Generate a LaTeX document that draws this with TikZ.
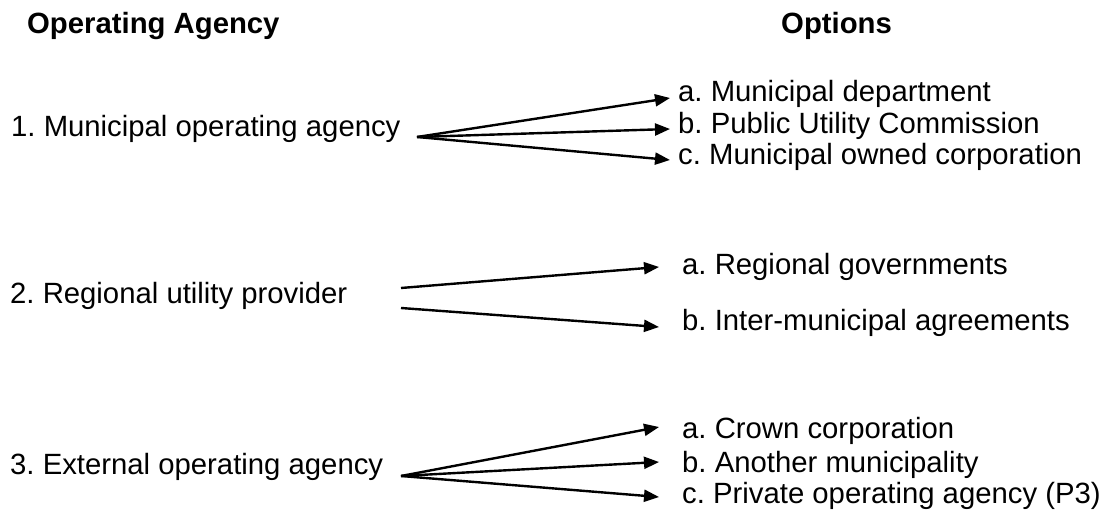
\documentclass[tikz,border=0pt]{standalone}
\usepackage{fontspec}
\setmainfont{Liberation Sans}
\frenchspacing
\usetikzlibrary{arrows.meta}
\tikzset{
  txt/.style={anchor=base west, inner sep=0pt, font=\fontsize{29.3}{34}\selectfont},
  head/.style={txt, font=\fontsize{29.3}{34}\selectfont\bfseries},
  conn/.style={line width=2.4pt, -{Triangle[length=15pt,width=12pt]}},
}
\begin{document}
\begin{tikzpicture}[x=1pt,y=-1pt]
\useasboundingbox (0,0) rectangle (1100,510);
% headings
\node[head] (hA) at (27,34) {Operating Agency};
\node[head] (hO) at (781,34) {Options};
% group 1
\node[txt] (g1) at (11,137) {1. Municipal operating agency};
\node[txt] (g1a) at (678,102) {a. Municipal department};
\node[txt] (g1b) at (678,134) {b. Public Utility Commission};
\node[txt] (g1c) at (678,165) {c. Municipal owned corporation};
\coordinate (s1) at (417,137);
\coordinate (t1a) at (670,98);
\coordinate (t1b) at (670,129);
\coordinate (t1c) at (670,160);
\draw[conn] (s1) -- (t1a);
\draw[conn] (s1) -- (t1b);
\draw[conn] (s1) -- (t1c);
% group 2
\node[txt] (g2) at (10,304) {2. Regional utility provider};
\node[txt] (g2a) at (682,275) {a. Regional governments};
\node[txt] (g2b) at (682,331) {b. Inter-municipal agreements};
\coordinate (s2a) at (401,288);
\coordinate (s2b) at (401,308);
\coordinate (t2a) at (659,267);
\coordinate (t2b) at (659,327);
\draw[conn] (s2a) -- (t2a);
\draw[conn] (s2b) -- (t2b);
% group 3
\node[txt] (g3) at (10,474) {3. External operating agency};
\node[txt] (g3a) at (682,438) {a. Crown corporation};
\node[txt] (g3b) at (682,472) {b. Another municipality};
\node[txt] (g3c) at (682,503) {c. Private operating agency (P3)};
\coordinate (s3) at (401,476);
\coordinate (t3a) at (659,427);
\coordinate (t3b) at (659,462);
\coordinate (t3c) at (659,497);
\draw[conn] (s3) -- (t3a);
\draw[conn] (s3) -- (t3b);
\draw[conn] (s3) -- (t3c);
\end{tikzpicture}
\end{document}
